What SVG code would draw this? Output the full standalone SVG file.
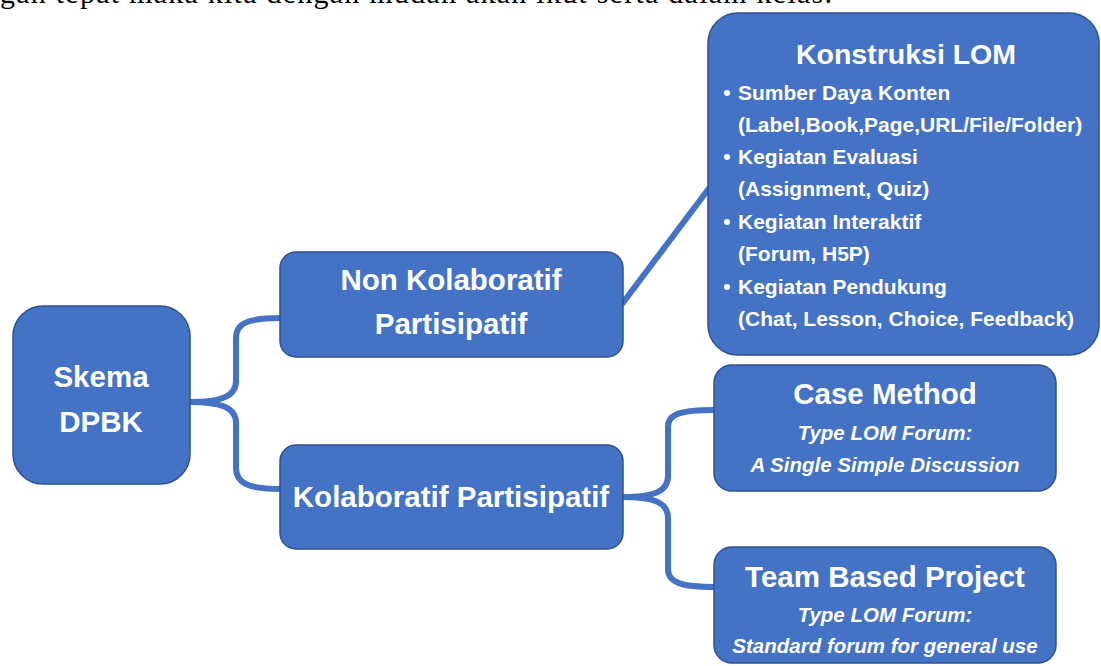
<svg xmlns="http://www.w3.org/2000/svg" width="1101" height="666" viewBox="0 0 1101 666">
<style>
.box{fill:#4472C4;stroke:#2F528F;stroke-width:1.5}
.t{font-family:"Liberation Sans",Arial,sans-serif;font-weight:bold;fill:#fff;text-anchor:middle}
.h{font-size:29.5px}
.b{font-family:"Liberation Sans",Arial,sans-serif;font-weight:bold;fill:#fff;font-size:21px}
.i{font-size:20.5px;font-style:italic}
.c{fill:none;stroke:#4472C4;stroke-width:6;stroke-linecap:butt}
</style>
<rect width="1101" height="666" fill="#fff"/>
<text x="0" y="3" font-family="'Liberation Serif','Times New Roman',serif" font-size="30" fill="#000" textLength="832" lengthAdjust="spacing">gan tepat maka kita dengan mudah akan ikut serta dalam kelas.</text>
<g id="connectors">
<path class="c" d="M190,402 C222,402 236,396 236,381 L236,338 C236,323 248,318 281,318"/>
<path class="c" d="M190,402 C222,402 236,408 236,423 L236,468 C236,483 248,489 281,489"/>
<path class="c" d="M622,304 L710,187"/>
<path class="c" d="M623,497 C655,497 668,491 668,476 L668,427 C668,414 680,410 715,410"/>
<path class="c" d="M623,497 C655,497 668,503 668,518 L668,569 C668,582 680,587 715,587"/>
</g>
<g id="skema">
<rect class="box" x="13" y="306" width="177" height="178" rx="30"/>
<text class="t h" x="101" y="387">Skema</text>
<text class="t h" x="101" y="432">DPBK</text>
</g>
<g id="non-kolaboratif">
<rect class="box" x="280" y="252" width="343" height="105" rx="16"/>
<text class="t h" x="451" y="290">Non Kolaboratif</text>
<text class="t h" x="451" y="334">Partisipatif</text>
</g>
<g id="kolaboratif">
<rect class="box" x="280" y="445" width="343" height="104" rx="16"/>
<text class="t h" x="451" y="507">Kolaboratif Partisipatif</text>
</g>
<g id="konstruksi">
<rect class="box" x="708" y="13" width="391" height="342" rx="30"/>
<text class="t" x="906" y="64" font-size="28.5">Konstruksi LOM</text>
<g fill="#fff">
<circle cx="727" cy="93" r="3"/>
<circle cx="727" cy="157" r="3"/>
<circle cx="727" cy="222" r="3"/>
<circle cx="727" cy="287" r="3"/>
</g>
<text class="b" x="738" y="100">Sumber Daya Konten</text>
<text class="b" x="738" y="132">(Label,Book,Page,URL/File/Folder)</text>
<text class="b" x="738" y="164">Kegiatan Evaluasi</text>
<text class="b" x="738" y="196">(Assignment, Quiz)</text>
<text class="b" x="738" y="229">Kegiatan Interaktif</text>
<text class="b" x="738" y="261">(Forum, H5P)</text>
<text class="b" x="738" y="294">Kegiatan Pendukung</text>
<text class="b" x="738" y="326">(Chat, Lesson, Choice, Feedback)</text>
</g>
<g id="case-method">
<rect class="box" x="714" y="365" width="342" height="126" rx="18"/>
<text class="t h" x="885" y="404">Case Method</text>
<text class="t i" x="885" y="440">Type LOM Forum:</text>
<text class="t i" x="885" y="472">A Single Simple Discussion</text>
</g>
<g id="team-based">
<rect class="box" x="714" y="547" width="342" height="116" rx="18"/>
<text class="t h" x="885" y="587">Team Based Project</text>
<text class="t i" x="885" y="622">Type LOM Forum:</text>
<text class="t i" x="885" y="653">Standard forum for general use</text>
</g>
</svg>
